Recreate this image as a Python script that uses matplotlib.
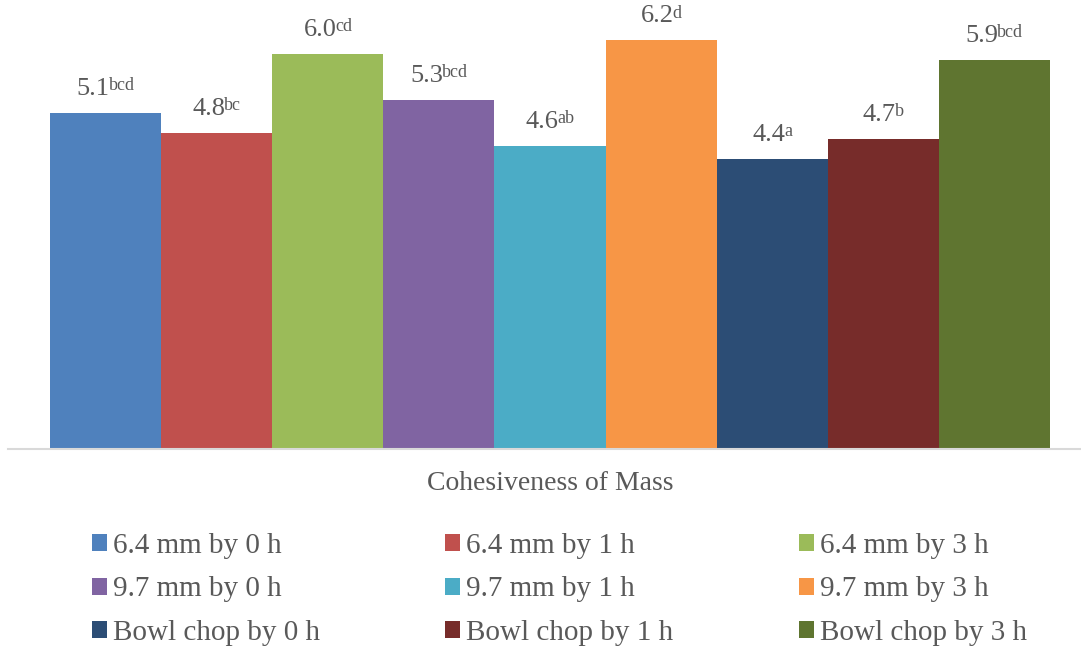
import matplotlib
matplotlib.use("Agg")
import matplotlib.pyplot as plt
import numpy as np

# 数据
groups = ["6.4 mm by 0 h", "6.4 mm by 1 h", "6.4 mm by 3 h",
          "9.7 mm by 0 h", "9.7 mm by 1 h", "9.7 mm by 3 h",
          "Bowl chop by 0 h", "Bowl chop by 1 h", "Bowl chop by 3 h"]
values = [5.1, 4.8, 6.0, 5.3, 4.6, 6.2, 4.4, 4.7, 5.9]
letters = ["bcd", "bc", "cd", "bcd", "ab", "d", "a", "b", "bcd"]
colors = ["#4F81BD", "#C0504D", "#9BBB59", "#8064A2", "#4BACC6",
          "#F79646", "#2C4D75", "#772C2A", "#5F7530"]
category = "Cohesiveness of Mass"

plt.rcParams['font.family'] = ['Liberation Serif', 'DejaVu Serif']
txt_color = "#595959"

W, H = 1081, 648
fig = plt.figure(figsize=(W / 100, H / 100), dpi=100)
ax = fig.add_axes([8 / W, (H - 449) / H, 1084 / W, 449 / H])

n = len(values)
w = 1000 / 1084 / n
x = (np.arange(n) - (n - 1) / 2) * w

bars = ax.bar(x, values, width=w, color=colors, linewidth=0)

ax.set_xlim(-0.5, 0.5)
ax.set_ylim(0, 449 / 65.9)
ax.set_xticks([])
ax.set_yticks([])
for sp in ["top", "left", "right"]:
    ax.spines[sp].set_visible(False)
ax.spines["bottom"].set_color("#D9D9D9")
ax.spines["bottom"].set_linewidth(1.5)

# 数值 + 上标字母, 整体居中
gap = -0.8
renderer = fig.canvas.get_renderer()
for xi, v, s in zip(x, values, letters):
    num = ax.annotate("%.1f" % v, xy=(xi, v), xytext=(0, 13),
                      textcoords="offset points", ha="center", va="baseline",
                      fontsize=19, color=txt_color)
    sup = ax.annotate(s, xy=(1, 0), xycoords=num, xytext=(gap, 7),
                      textcoords="offset points", ha="left", va="baseline",
                      fontsize=13, color=txt_color)
    sw = sup.get_window_extent(renderer).width * 72 / fig.dpi
    num.xyann = (-(sw + gap) / 2, 13)

fig.text(550 / W, 1 - 483 / H, category, ha="center", va="center",
         fontsize=20, color=txt_color)

# 图例按行排列
order = [0, 3, 6, 1, 4, 7, 2, 5, 8]
leg = fig.legend([bars[i] for i in order], [groups[i] for i in order],
                 ncol=3, loc="upper left", bbox_to_anchor=(92 / W, 1 - 533 / H),
                 frameon=False, fontsize=21, handlelength=0.51, handleheight=0.51,
                 handletextpad=0.21, columnspacing=4.3, labelspacing=0.6,
                 borderpad=0, borderaxespad=0)
for t in leg.get_texts():
    t.set_color(txt_color)

fig.savefig("out.png", dpi=100)
